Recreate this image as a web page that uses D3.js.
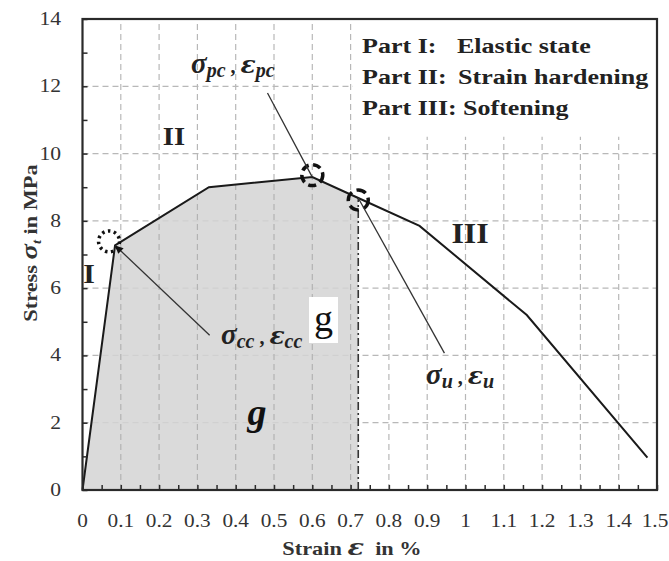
<!DOCTYPE html>
<html><head><meta charset="utf-8">
<script src="https://cdn.jsdelivr.net/npm/d3@7"></script>
<style>body{margin:0;background:#fff}svg{display:block}</style>
</head><body><svg id="c" width="669" height="561" font-family="Liberation Serif, Times New Roman, serif"></svg>
<script>
// Data
const strain = [0, 0.085, 0.33, 0.60, 0.72, 0.88, 1.16, 1.475];
const stress = [0, 7.27, 9.0, 9.3, 8.68, 7.85, 5.2, 0.96];
const shadeEnd = 0.72;
const xTicks = [0,0.1,0.2,0.3,0.4,0.5,0.6,0.7,0.8,0.9,1,1.1,1.2,1.3,1.4,1.5];
const yTicks = [0,2,4,6,8,10,12,14];
const legendLines = [["Part I:","Elastic state"],["Part II:","Strain hardening"],["Part III:","Softening"]];
const keyPts = [{name:"cc",x:0.085,y:7.27},{name:"pc",x:0.60,y:9.3},{name:"u",x:0.72,y:8.68}];

const FONT = "Liberation Serif, Times New Roman, serif";
const SX = 1.24; // horizontal stretch of text glyphs seen in the reference
const svg = d3.select("#c");
const x = d3.scaleLinear().domain([0,1.5]).range([82.5,657]);
const y = d3.scaleLinear().domain([0,14]).range([490,19]);
const pts = strain.map((s,i)=>({x:s,y:stress[i]}));

function stext(px,py,sx,rot){
  return svg.append("text").attr("font-family",FONT)
    .attr("transform",`translate(${px},${py})${rot?` rotate(${rot})`:""} scale(${sx},1)`);
}

// grid
const grid = svg.append("g").attr("stroke","#b8b8b8").attr("stroke-width",1.2).attr("stroke-dasharray","6,4");
xTicks.slice(1,-1).forEach(t=>grid.append("line").attr("x1",x(t)).attr("x2",x(t)).attr("y1",y(0)).attr("y2",y(14)));
yTicks.slice(1,-1).forEach(t=>grid.append("line").attr("x1",x(0)).attr("x2",x(1.5)).attr("y1",y(t)).attr("y2",y(t)));

// shaded area
const shadePts = pts.filter(p=>p.x<=shadeEnd);
svg.append("path").datum(shadePts)
  .attr("d", d3.area().x(d=>x(d.x)).y0(y(0)).y1(d=>y(d.y)))
  .attr("fill","#d4d4d4").attr("opacity",0.85);
const interp = d3.scaleLinear().domain(strain).range(stress);
const grid2 = svg.append("g").attr("stroke","#a8a8a8").attr("stroke-width",1.1).attr("stroke-dasharray","6,4").attr("opacity",0.75);
xTicks.slice(1,-1).filter(t=>t<shadeEnd).forEach(t=>{
  grid2.append("line").attr("x1",x(t)).attr("x2",x(t)).attr("y1",y(0)).attr("y2",y(interp(t)));
});

// legend white box
svg.append("rect").attr("x",x(0.705)).attr("y",y(14)).attr("width",x(1.5)-x(0.705)).attr("height",y(10.5)-y(14)).attr("fill","#fff");

// dash-dot vertical
const uy = keyPts[2].y;
svg.append("line").attr("x1",x(shadeEnd)).attr("x2",x(shadeEnd)).attr("y1",y(0)).attr("y2",y(uy))
  .attr("stroke","#333").attr("stroke-width",1.6).attr("stroke-dasharray","8,3,2,3");

// curve
svg.append("path").datum(pts).attr("d",d3.line().x(d=>x(d.x)).y(d=>y(d.y)))
  .attr("fill","none").attr("stroke","#1a1a1a").attr("stroke-width",2);

// axes frame
svg.append("rect").attr("x",x(0)).attr("y",y(14)).attr("width",x(1.5)-x(0)).attr("height",y(0)-y(14))
  .attr("fill","none").attr("stroke","#2a2a2a").attr("stroke-width",2.2);

// ticks (inward)
const xAxis = d3.axisBottom(x).tickValues(d3.range(0,1.5001,0.05)).tickSize(-5).tickFormat("");
svg.append("g").attr("transform",`translate(0,${y(0)})`).call(xAxis).call(g=>{g.select(".domain").remove();g.selectAll("line").attr("stroke","#2a2a2a").attr("stroke-width",1.5);});
const yAxis = d3.axisLeft(y).tickValues(d3.range(0,14.001,1)).tickSize(-5).tickFormat("");
svg.append("g").attr("transform",`translate(${x(0)},0)`).call(yAxis).call(g=>{g.select(".domain").remove();g.selectAll("line").attr("stroke","#2a2a2a").attr("stroke-width",1.5);});

// tick labels
xTicks.forEach(d=>{
  stext(d===1.5?x(d)-2:x(d),527,1.12).attr("text-anchor","middle").attr("font-size",19).attr("fill","#333")
    .text(d===0||d===1?String(d):d.toFixed(1));
});
yTicks.forEach(d=>{
  stext(61,y(d)+6,1.2).attr("text-anchor","end").attr("font-size",18).attr("fill","#333").text(d);
});

// axis titles
const yl = stext(37,243,SX,-90).attr("text-anchor","middle")
  .attr("font-size",18).attr("font-weight","bold").attr("fill","#333");
yl.append("tspan").text("Stress ");
yl.append("tspan").text("σ").attr("font-style","italic").attr("font-size",23);
yl.append("tspan").text("t").attr("font-style","italic").attr("font-size",12).attr("dy",4);
yl.append("tspan").text(" in MPa").attr("dy",-4);
const xl = stext(352,555,SX).attr("text-anchor","middle")
  .attr("font-size",18).attr("font-weight","bold").attr("fill","#333");
xl.append("tspan").text("Strain ");
xl.append("tspan").text("ε").attr("font-style","italic").attr("font-size",22).attr("font-family","DejaVu Serif");
xl.append("tspan").text("\u00a0 in %");

// legend text
const col2 = [457,458,463];
legendLines.forEach((l,i)=>{
  stext(362,53+i*31,SX).attr("font-size",21).attr("font-weight","bold").attr("fill","#222").text(l[0]);
  stext(col2[i],53+i*31,SX).attr("font-size",21).attr("font-weight","bold").attr("fill","#222").text(l[1]);
});

// part labels
const partLbl = [{t:"I",px:89,py:283,fs:27},{t:"II",px:174,py:145,fs:26},{t:"III",px:470,py:243,fs:29}];
partLbl.forEach(p=>stext(p.px,p.py,1.1).attr("text-anchor","middle")
  .attr("font-size",p.fs).attr("font-weight","bold").attr("fill","#222").text(p.t));

// key point circles
const circ = [{k:0,dx:-6,dy:-4,da:"2.5,3.5",r:10.5},{k:1,dx:0,dy:-2,da:"8,4.5",r:10.5},{k:2,dx:0,dy:2,da:"10,5",r:10}];
circ.forEach(c=>{
  const p = keyPts[c.k];
  svg.append("circle").attr("cx",x(p.x)+c.dx).attr("cy",y(p.y)+c.dy).attr("r",c.r)
    .attr("fill","none").attr("stroke","#111").attr("stroke-width",3.5).attr("stroke-dasharray",c.da);
});

// leader lines
const leaders = [{k:0,tx:0.332,ty:4.6},{k:1,tx:0.483,ty:11.8},{k:2,tx:0.945,ty:4.07}];
leaders.forEach(l=>{
  const p = keyPts[l.k];
  svg.append("line").attr("x1",x(p.x)).attr("y1",y(p.y)).attr("x2",x(l.tx)).attr("y2",y(l.ty))
    .attr("stroke","#333").attr("stroke-width",1.3);
});
{
  const p = keyPts[0], a = Math.atan2(y(4.6)-y(p.y), x(0.332)-x(p.x));
  const px = x(p.x), py = y(p.y), L=9, w=0.45;
  svg.append("path").attr("d",`M${px},${py}L${px+L*Math.cos(a-w)},${py+L*Math.sin(a-w)}L${px+L*Math.cos(a+w)},${py+L*Math.sin(a+w)}Z`).attr("fill","#111");
}

// greek labels
function greek(px,py,sub){
  const t = svg.append("text").attr("font-family",FONT).attr("x",px).attr("y",py).attr("font-weight","bold").attr("font-style","italic").attr("fill","#222");
  t.append("tspan").text("σ").attr("font-size",29);
  t.append("tspan").text(sub).attr("font-size",20).attr("dy",4);
  t.append("tspan").text(" , ").attr("font-size",20).attr("dy",-4).attr("font-style","normal");
  t.append("tspan").text("ε").attr("font-size",25).attr("font-family","DejaVu Serif");
  t.append("tspan").text(sub).attr("font-size",20).attr("dy",4);
}
greek(191,73,"pc");
greek(221,344,"cc");
greek(426,384,"u");

// g boxes
svg.append("rect").attr("x",309).attr("y",297).attr("width",29).attr("height",46).attr("fill","#fff");
svg.append("text").attr("font-family",FONT).attr("x",323.5).attr("y",331).attr("text-anchor","middle").attr("font-size",38).attr("fill","#111").text("g");
svg.append("text").attr("font-family",FONT).attr("x",257).attr("y",425).attr("text-anchor","middle").attr("font-size",38).attr("font-weight","bold").attr("font-style","italic").attr("fill","#111").text("g");
</script></body></html>
